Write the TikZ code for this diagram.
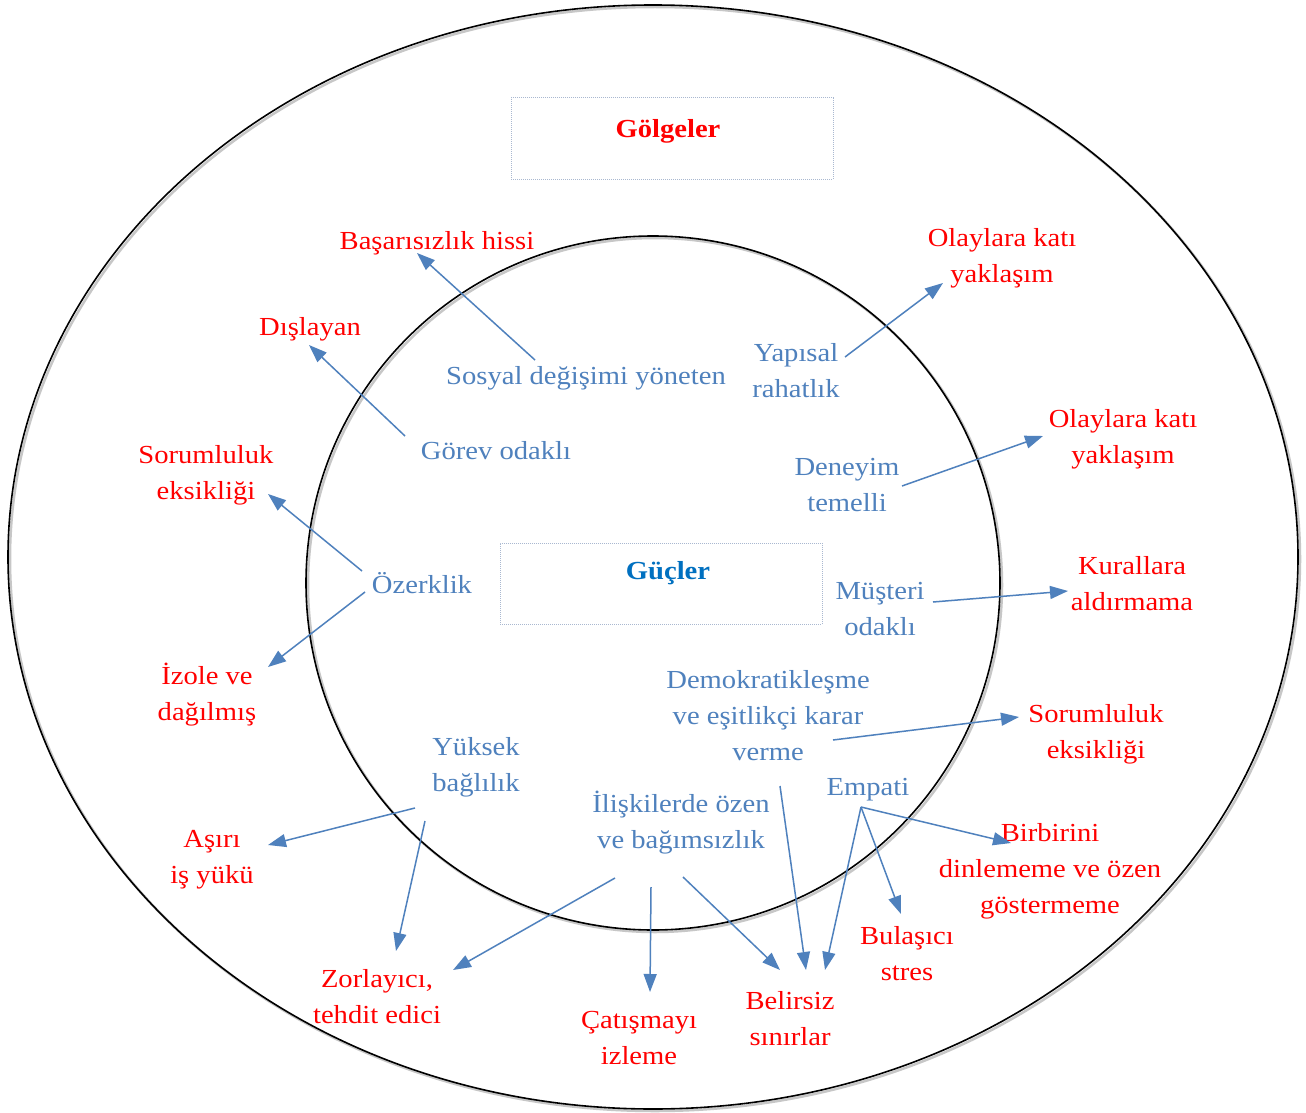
\documentclass[tikz,border=0pt]{standalone}
\usepackage{fontspec}
\setmainfont[FakeStretch=1.1]{Liberation Serif}
\usetikzlibrary{arrows.meta}
\definecolor{bl}{HTML}{4F81BD}
\definecolor{rd}{HTML}{FF0000}
\definecolor{gb}{HTML}{0070C0}
\definecolor{bx}{HTML}{A9B8D0}
\begin{document}
\begin{tikzpicture}[x=1pt,y=-1pt,
  strg/.style={text=bl,font=\fontsize{26}{36}\selectfont,align=center,inner sep=0pt,yshift=-3pt},
  shdw/.style={text=rd,font=\fontsize{26}{36}\selectfont,align=center,inner sep=0pt,yshift=-3pt},
  conn/.style={draw=bl,line width=1.5pt,-{Triangle[length=18pt,width=13pt]}},
  tbox/.style={draw=bx,densely dotted,line width=1pt,minimum width=322pt,minimum height=81pt,inner sep=0pt},
  ring/.style={draw=black,line width=1.6pt},
  ringshadow/.style={draw=black!22,line width=2.5pt}]
\useasboundingbox (0,0) rectangle (1306,1113);
\fill[white] (0,0) rectangle (1306,1113);
% rings
\draw[ringshadow] (655,559) ellipse [x radius=645, y radius=552];
\draw[ring] (653,557) ellipse [x radius=645, y radius=552];
\draw[ringshadow] (655,585) circle [radius=347];
\draw[ring] (653,583) circle [radius=347];
% title boxes
\node[tbox] (gbox) at (672,138.5) {};
\node[text=rd,font=\bfseries\fontsize{26}{36}\selectfont,inner sep=0pt,yshift=-3pt] (golgeler) at (668,128) {Gölgeler};
\node[tbox] (cbox) at (661,583.5) {};
\node[text=gb,font=\bfseries\fontsize{26}{36}\selectfont,inner sep=0pt,yshift=-3pt] (gucler) at (668,570) {Güçler};
% strengths
\node[strg] (sosyal) at (586,375) {Sosyal değişimi yöneten};
\node[strg] (yapisal) at (796,368) {Yapısal\\rahatlık};
\node[strg] (gorev) at (496,448) {Görev odaklı};
\node[strg] (deneyim) at (847,482) {Deneyim\\temelli};
\node[strg] (ozerk) at (422,580) {Özerklik};
\node[strg] (musteri) at (880,606) {Müşteri\\odaklı};
\node[strg] (demok) at (768,713) {Demokratikleşme\\ve eşitlikçi karar\\verme};
\node[strg] (yuksek) at (476,764) {Yüksek\\bağlılık};
\node[strg] (iliski) at (681,820) {İlişkilerde özen\\ve bağımsızlık};
\node[strg] (empati) at (868,787) {Empati};
% shadows
\node[shdw] (basari) at (437,240) {Başarısızlık hissi};
\node[shdw] (olay1) at (1002,255) {Olaylara katı\\yaklaşım};
\node[shdw] (dislayan) at (310,326) {Dışlayan};
\node[shdw] (olay2) at (1123,436) {Olaylara katı\\yaklaşım};
\node[shdw] (sorum1) at (206,472) {Sorumluluk\\eksikliği};
\node[shdw] (kural) at (1132,581) {Kurallara\\aldırmama};
\node[shdw] (izole) at (207,692) {İzole ve\\dağılmış};
\node[shdw] (sorum2) at (1096,731) {Sorumluluk\\eksikliği};
\node[shdw] (asiri) at (212,857) {Aşırı\\iş yükü};
\node[shdw] (birbir) at (1050,868) {Birbirini\\dinlememe ve özen\\göstermeme};
\node[shdw] (bulas) at (907,951) {Bulaşıcı\\stres};
\node[shdw] (zorla) at (377,994) {Zorlayıcı,\\tehdit edici};
\node[shdw] (catis) at (639,1035) {Çatışmayı\\izleme};
\node[shdw] (belir) at (790,1016) {Belirsiz\\sınırlar};
% connector end points
\coordinate (s1) at (535,360);  \coordinate (e1) at (417,253);
\coordinate (s2) at (845,357);  \coordinate (e2) at (943,283);
\coordinate (s3) at (405,436);  \coordinate (e3) at (309,345);
\coordinate (s4) at (902,486);  \coordinate (e4) at (1043,436);
\coordinate (s5) at (362,571);  \coordinate (e5) at (268,494);
\coordinate (s6) at (365,592);  \coordinate (e6) at (268,667);
\coordinate (s7) at (933,602);  \coordinate (e7) at (1068,591);
\coordinate (s8) at (833,740);  \coordinate (e8) at (1019,717);
\coordinate (s9) at (780,786);  \coordinate (e9) at (806,970);
\coordinate (s10) at (415,808); \coordinate (e10) at (268,845);
\coordinate (s11) at (425,821); \coordinate (e11) at (396,951);
\coordinate (s12) at (615,878); \coordinate (e12) at (453,970);
\coordinate (s13) at (651,887); \coordinate (e13) at (650,992);
\coordinate (s14) at (683,877); \coordinate (e14) at (780,970);
\coordinate (s15) at (861,807); \coordinate (e15) at (1011,843);
\coordinate (e16) at (901,914);
\coordinate (e17) at (825,970);
% connectors
\draw[conn] (s1) -- (e1);
\draw[conn] (s2) -- (e2);
\draw[conn] (s3) -- (e3);
\draw[conn] (s4) -- (e4);
\draw[conn] (s5) -- (e5);
\draw[conn] (s6) -- (e6);
\draw[conn] (s7) -- (e7);
\draw[conn] (s8) -- (e8);
\draw[conn] (s9) -- (e9);
\draw[conn] (s10) -- (e10);
\draw[conn] (s11) -- (e11);
\draw[conn] (s12) -- (e12);
\draw[conn] (s13) -- (e13);
\draw[conn] (s14) -- (e14);
\draw[conn] (s15) -- (e15);
\draw[conn] (s15) -- (e16);
\draw[conn] (s15) -- (e17);
\end{tikzpicture}
\end{document}
